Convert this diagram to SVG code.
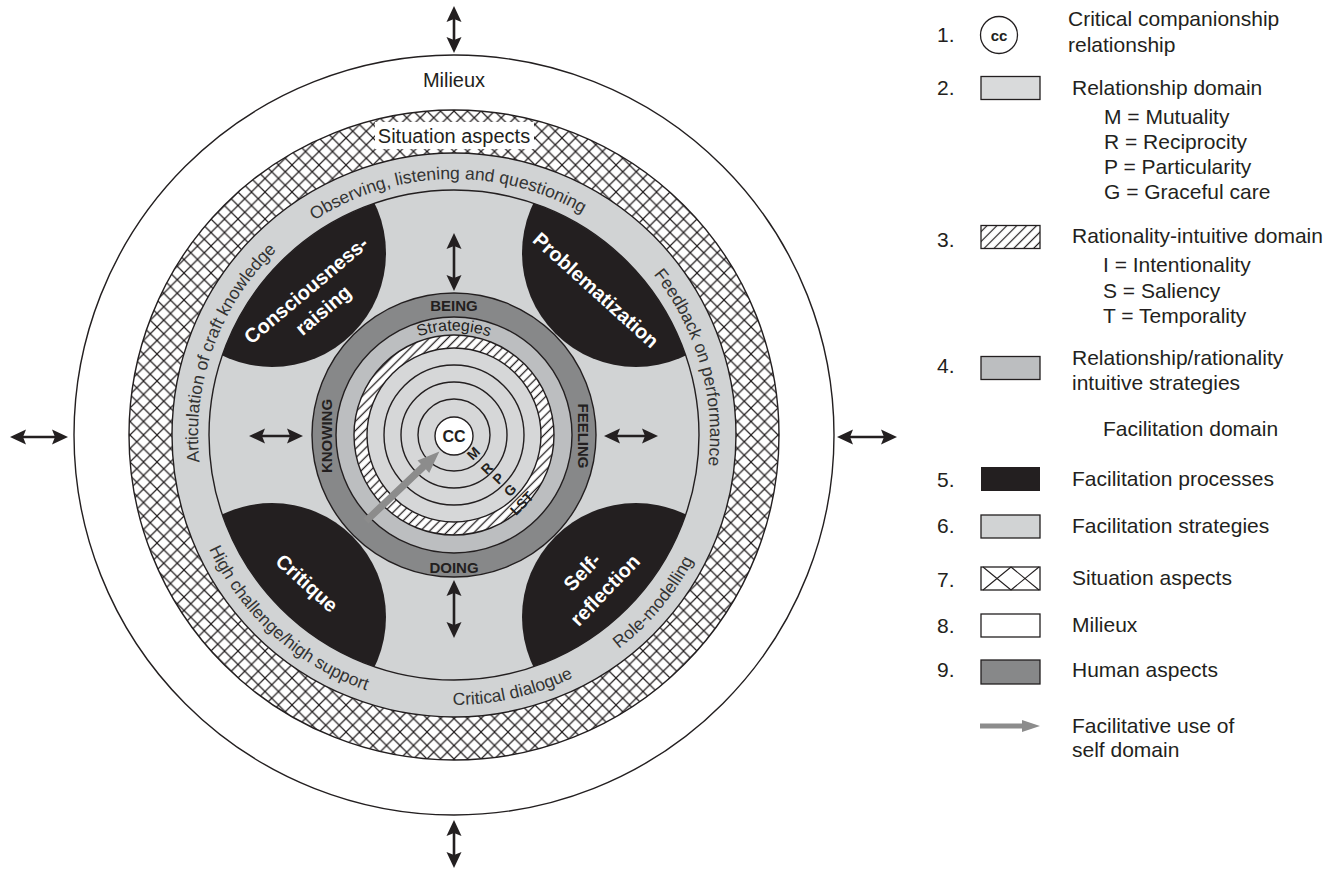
<svg xmlns="http://www.w3.org/2000/svg" width="1335" height="871" viewBox="0 0 1335 871">
  <style>
    .t { font-family: "Liberation Sans", Arial, sans-serif; fill: #231f20; }
    .lg { font-size: 21px; }
    .band { font-size: 17.5px; fill: #333333; }
    .proc { font-size: 20px; font-weight: bold; fill: #ffffff; }
    .hum { font-size: 15px; font-weight: bold; fill: #231f20; }
    .rel { font-size: 14px; font-weight: bold; }
    .edge { stroke: #231f20; stroke-width: 1.4; }
    .dbl { stroke: #231f20; stroke-width: 2.6; fill: none; marker-start: url(#ah); marker-end: url(#ah); }
  </style>
  <defs>
    <pattern id="xhatch" width="13.5" height="13.5" patternUnits="userSpaceOnUse" x="454" y="435">
      <rect width="13.5" height="13.5" fill="#ffffff"/>
      <path d="M0,0 L13.5,13.5 M13.5,0 L0,13.5" stroke="#231f20" stroke-width="1.2"/>
    </pattern>
    <pattern id="hatch" width="6.5" height="6.5" patternUnits="userSpaceOnUse" patternTransform="rotate(45)">
      <rect width="6.5" height="6.5" fill="#ffffff"/>
      <line x1="3.25" y1="0" x2="3.25" y2="6.5" stroke="#231f20" stroke-width="1.3"/>
    </pattern>
    <pattern id="hatchLg" width="7" height="7" patternUnits="userSpaceOnUse" patternTransform="rotate(45)">
      <rect width="7" height="7" fill="#ffffff"/>
      <line x1="3.5" y1="0" x2="3.5" y2="7" stroke="#231f20" stroke-width="1.2"/>
    </pattern>
    <marker id="ah" viewBox="0 0 16 16" refX="8" refY="8" markerWidth="16" markerHeight="16" markerUnits="userSpaceOnUse" orient="auto-start-reverse">
      <path d="M0,0.5 L16,8 L0,15.5 L3,8 z" fill="#231f20"/>
    </marker>
    <clipPath id="innerDisc">
      <circle cx="454" cy="435" r="245"/>
    </clipPath>
    <!-- text baselines: clockwise (letters upright outward) and anticlockwise (upright inward) -->
    <path id="bandCW" d="M454,691 A256,256 0 1 1 454,179 A256,256 0 1 1 454,691"/>
    <path id="bandCCW" d="M454,165 A270,270 0 1 0 454,705 A270,270 0 1 0 454,165"/>
    <path id="stratCW" d="M454,539.5 A104.5,104.5 0 1 1 454,330.5 A104.5,104.5 0 1 1 454,539.5"/>
  </defs>

  <rect width="1335" height="871" fill="#ffffff"/>

  <!-- milieux -->
  <g id="milieux">
    <circle cx="454" cy="435" r="380" fill="#ffffff" class="edge"/>
    <text class="t" x="454" y="87" font-size="20" text-anchor="middle">Milieux</text>
  </g>

  <!-- situation aspects -->
  <g id="situation">
    <circle cx="454" cy="435" r="325" fill="url(#xhatch)" class="edge"/>
    <rect x="375" y="122" width="159" height="27" fill="#ffffff"/>
    <text class="t" x="454" y="143" font-size="20" text-anchor="middle">Situation aspects</text>
  </g>

  <!-- facilitation strategies band and field -->
  <g id="strategies-band">
    <circle cx="454" cy="435" r="282" fill="#d1d3d4" class="edge"/>
    <circle cx="454" cy="435" r="245" fill="#d1d3d4" class="edge"/>
    <text class="t band"><textPath href="#bandCW" startOffset="30.56%" text-anchor="middle">Articulation of craft knowledge</textPath></text>
    <text class="t band"><textPath href="#bandCW" startOffset="49.58%" text-anchor="middle">Observing, listening and questioning</textPath></text>
    <text class="t band"><textPath href="#bandCW" startOffset="70.56%" text-anchor="middle">Feedback on performance</textPath></text>
    <text class="t band"><textPath href="#bandCCW" startOffset="38.33%" text-anchor="middle">High challenge/high support</textPath></text>
    <text class="t band"><textPath href="#bandCCW" startOffset="53.61%" text-anchor="middle">Critical dialogue</textPath></text>
    <text class="t band"><textPath href="#bandCCW" startOffset="63.89%" text-anchor="middle">Role-modelling</textPath></text>
  </g>

  <!-- facilitation processes -->
  <g id="processes" clip-path="url(#innerDisc)" fill="#231f20">
    <circle cx="272" cy="253" r="114"/>
    <circle cx="636" cy="253" r="114"/>
    <circle cx="272" cy="617" r="114"/>
    <circle cx="636" cy="617" r="114"/>
  </g>
  <g id="consciousness-raising">
    <g transform="translate(306,290) rotate(-40)"><text class="t proc" x="0" y="7" text-anchor="middle">Consciousness-</text></g>
    <g transform="translate(323,310) rotate(-40)"><text class="t proc" x="0" y="7" text-anchor="middle">raising</text></g>
  </g>
  <g id="problematization">
    <g transform="translate(596,290) rotate(42)"><text class="t proc" x="0" y="7" text-anchor="middle">Problematization</text></g>
  </g>
  <g id="critique">
    <g transform="translate(307,583) rotate(42)"><text class="t proc" x="0" y="7" text-anchor="middle">Critique</text></g>
  </g>
  <g id="self-reflection">
    <g transform="translate(582,572) rotate(-46)"><text class="t proc" x="0" y="7" text-anchor="middle">Self-</text></g>
    <g transform="translate(605,590) rotate(-46)"><text class="t proc" x="0" y="7" text-anchor="middle">reflection</text></g>
  </g>

  <!-- human aspects ring -->
  <g id="human-aspects">
    <circle cx="454" cy="435" r="142" fill="#878889" class="edge"/>
    <text class="t hum" x="454" y="311" text-anchor="middle">BEING</text>
    <text class="t hum" x="454" y="573" text-anchor="middle">DOING</text>
    <g transform="translate(331.5,436) rotate(-90)"><text class="t hum" x="0" y="0" text-anchor="middle">KNOWING</text></g>
    <g transform="translate(578,436) rotate(90)"><text class="t hum" x="0" y="0" text-anchor="middle">FEELING</text></g>
  </g>

  <!-- relationship / rationality strategies ring -->
  <g id="strategies-ring">
    <circle cx="454" cy="435" r="118" fill="#bcbec0" class="edge"/>
    <text class="t" font-size="16" fill="#333333"><textPath href="#stratCW" startOffset="50%" text-anchor="middle">Strategies</textPath></text>
  </g>

  <!-- rationality-intuitive domain -->
  <g id="rationality">
    <circle cx="454" cy="435" r="100" fill="url(#hatch)" class="edge"/>
  </g>

  <!-- relationship domain -->
  <g id="relationship">
    <circle cx="454" cy="435" r="87" fill="#d6d7d8" class="edge"/>
    <circle cx="454" cy="435" r="70" fill="#d6d7d8" class="edge"/>
    <circle cx="454" cy="435" r="53" fill="#d6d7d8" class="edge"/>
    <circle cx="454" cy="435" r="36" fill="#d6d7d8" class="edge"/>
  </g>

  <!-- critical companionship core -->
  <g id="cc">
    <circle cx="454" cy="436" r="19" fill="#ffffff" class="edge"/>
    <text class="t" x="454" y="442" font-size="16" font-weight="bold" text-anchor="middle">CC</text>
  </g>

  <g id="ring-labels">
    <g transform="translate(473.3,453.3) rotate(-45)"><text class="t rel" x="0" y="5" text-anchor="middle">M</text></g>
    <g transform="translate(486.7,468.3) rotate(-45)"><text class="t rel" x="0" y="5" text-anchor="middle">R</text></g>
    <g transform="translate(498.3,478.3) rotate(-45)"><text class="t rel" x="0" y="5" text-anchor="middle">P</text></g>
    <g transform="translate(510,490) rotate(-45)"><text class="t rel" x="0" y="5" text-anchor="middle">G</text></g>
    <g transform="translate(521.7,503.3) rotate(-45)"><text class="t rel" x="0" y="5" text-anchor="middle">LST</text></g>
  </g>

  <!-- connectors -->
  <g id="connectors">
    <line class="dbl" x1="454" y1="14" x2="454" y2="45"/>
    <line class="dbl" x1="454" y1="828" x2="454" y2="860"/>
    <line class="dbl" x1="18" y1="437" x2="60" y2="437"/>
    <line class="dbl" x1="845" y1="437" x2="889" y2="437"/>
    <line class="dbl" x1="454" y1="241" x2="454" y2="283"/>
    <line class="dbl" x1="454" y1="588" x2="454" y2="630"/>
    <line class="dbl" x1="257" y1="436" x2="295" y2="436"/>
    <line class="dbl" x1="612" y1="436" x2="650" y2="436"/>
    <!-- facilitative use of self -->
    <g transform="translate(366,521) rotate(-43.4)">
      <path d="M0,-3.6 L79,-3.6 L79,-8.5 L101,0 L79,8.5 L79,3.6 L0,3.6 z" fill="#8c8c8c"/>
    </g>
  </g>

  <!-- key -->
  <g id="legend" class="t lg">
    <text x="937" y="42">1.</text>
    <circle cx="999" cy="35" r="18.5" fill="#ffffff" stroke="#231f20" stroke-width="1.3"/>
    <text x="999" y="40.5" font-size="15" font-weight="bold" text-anchor="middle">cc</text>
    <text x="1068" y="26">Critical companionship</text>
    <text x="1068" y="52">relationship</text>

    <text x="937" y="95">2.</text>
    <rect x="981" y="76.5" width="59" height="23" fill="#d9dadb" stroke="#231f20" stroke-width="1.3"/>
    <text x="1072" y="95">Relationship domain</text>
    <text x="1104" y="124">M = Mutuality</text>
    <text x="1104" y="149">R = Reciprocity</text>
    <text x="1104" y="174">P = Particularity</text>
    <text x="1104" y="199">G = Graceful care</text>

    <text x="937" y="247">3.</text>
    <rect x="981" y="225.5" width="59" height="23" fill="url(#hatchLg)" stroke="#231f20" stroke-width="1.3"/>
    <text x="1072" y="243">Rationality-intuitive domain</text>
    <text x="1103" y="272">I = Intentionality</text>
    <text x="1103" y="298">S = Saliency</text>
    <text x="1103" y="323">T = Temporality</text>

    <text x="937" y="373">4.</text>
    <rect x="981" y="356.5" width="59" height="23" fill="#bcbec0" stroke="#231f20" stroke-width="1.3"/>
    <text x="1072" y="365">Relationship/rationality</text>
    <text x="1072" y="390">intuitive strategies</text>

    <text x="1103" y="436">Facilitation domain</text>

    <text x="937" y="487">5.</text>
    <rect x="981" y="467" width="59" height="24" fill="#231f20"/>
    <text x="1072" y="486">Facilitation processes</text>

    <text x="937" y="533">6.</text>
    <rect x="981" y="515" width="59" height="23" fill="#d1d3d4" stroke="#231f20" stroke-width="1.3"/>
    <text x="1072" y="533">Facilitation strategies</text>

    <text x="937" y="587">7.</text>
    <rect x="981" y="567" width="59" height="23" fill="#ffffff" stroke="#231f20" stroke-width="1.3"/>
    <path d="M983,567 L1011,590 M1011,567 L983,590 M1011,567 L1039,590 M1039,567 L1011,590" stroke="#231f20" stroke-width="1.1" fill="none"/>
    <text x="1072" y="585">Situation aspects</text>

    <text x="937" y="633">8.</text>
    <rect x="981" y="614" width="59" height="23" fill="#ffffff" stroke="#231f20" stroke-width="1.3"/>
    <text x="1072" y="632">Milieux</text>

    <text x="937" y="677">9.</text>
    <rect x="981" y="660" width="59" height="24" fill="#878889" stroke="#231f20" stroke-width="1.3"/>
    <text x="1072" y="677">Human aspects</text>

    <path d="M980,723.5 L1022,723.5 L1022,720 L1040,726 L1022,732 L1022,728.5 L980,728.5 z" fill="#8c8c8c"/>
    <text x="1072" y="733">Facilitative use of</text>
    <text x="1072" y="757">self domain</text>
  </g>
</svg>
